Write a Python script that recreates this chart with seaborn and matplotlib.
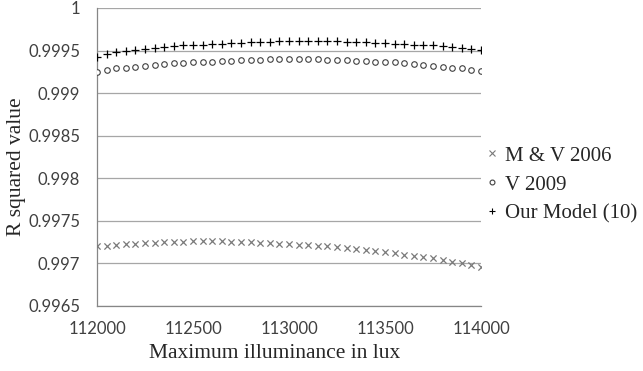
import numpy as np
import pandas as pd
import matplotlib
matplotlib.use("Agg")
import matplotlib.pyplot as plt
import seaborn as sns
from matplotlib.lines import Line2D

# Maximum illuminance (lux) sampled every 50 lux
illuminance = list(range(112000, 114001, 50))

mv_2006 = [0.99720, 0.99721, 0.99722, 0.99723, 0.99723, 0.99724, 0.99724, 0.99725, 0.99725, 0.99725,
           0.99726, 0.99726, 0.99726, 0.99726, 0.99725, 0.99725, 0.99725, 0.99724, 0.99724, 0.99723,
           0.99723, 0.99722, 0.99722, 0.99721, 0.99720, 0.99719, 0.99718, 0.99717, 0.99716, 0.99715,
           0.99713, 0.99712, 0.99710, 0.99709, 0.99707, 0.99706, 0.99704, 0.99702, 0.99700, 0.99698,
           0.99696]

v_2009 = [0.99925, 0.99927, 0.99929, 0.99930, 0.99931, 0.99932, 0.99933, 0.99934, 0.99935, 0.99935,
          0.99936, 0.99937, 0.99937, 0.99938, 0.99938, 0.99939, 0.99939, 0.99939, 0.99940, 0.99940,
          0.99940, 0.99940, 0.99940, 0.99940, 0.99939, 0.99939, 0.99939, 0.99938, 0.99938, 0.99937,
          0.99937, 0.99936, 0.99935, 0.99934, 0.99933, 0.99932, 0.99931, 0.99930, 0.99929, 0.99927,
          0.99926]

our_model = [0.99943, 0.99946, 0.99948, 0.99950, 0.99951, 0.99952, 0.99953, 0.99954, 0.99955, 0.99956,
             0.99957, 0.99957, 0.99958, 0.99958, 0.99959, 0.99959, 0.99960, 0.99960, 0.99960, 0.99961,
             0.99961, 0.99961, 0.99961, 0.99961, 0.99961, 0.99961, 0.99960, 0.99960, 0.99960, 0.99959,
             0.99959, 0.99958, 0.99958, 0.99957, 0.99956, 0.99956, 0.99955, 0.99954, 0.99953, 0.99952,
             0.99951]

series_names = ["M & V 2006", "V 2009", "Our Model (10)"]
x_ticks = [112000, 112500, 113000, 113500, 114000]
y_ticks = [0.9965, 0.997, 0.9975, 0.998, 0.9985, 0.999, 0.9995, 1.0]
y_tick_labels = ["0.9965", "0.997", "0.9975", "0.998", "0.9985", "0.999", "0.9995", "1"]

df = pd.DataFrame({
    "lux": illuminance * 3,
    "r2": mv_2006 + v_2009 + our_model,
    "model": [series_names[0]] * len(illuminance) + [series_names[1]] * len(illuminance)
             + [series_names[2]] * len(illuminance),
})

sns.set_style("white")
plt.rcParams["font.family"] = ["Lato", "DejaVu Sans"]

fig = plt.figure(figsize=(6.43, 3.71), dpi=100)
ax = fig.add_axes([97 / 643, 1 - 306 / 371, 384 / 643, 298 / 371])

styles = {
    series_names[0]: dict(marker="x", color="#7a7a7a", s=20, linewidth=0.9),
    series_names[1]: dict(marker="o", facecolor="white", edgecolor="#404040", s=16, linewidth=0.8),
    series_names[2]: dict(marker="+", color="black", s=40, linewidth=0.9),
}
for name in series_names:
    sub = df[df["model"] == name]
    sns.scatterplot(data=sub, x="lux", y="r2", ax=ax, legend=False, zorder=3, **styles[name])

ax.set_xlim(112000, 114000)
ax.set_ylim(0.9965, 1.0)
ax.set_xticks(x_ticks)
ax.set_xticklabels([str(t) for t in x_ticks])
ax.set_yticks(y_ticks)
ax.set_yticklabels(y_tick_labels)

ax.grid(axis="y", color="#a6a6a6", linewidth=0.9)
ax.grid(axis="x", visible=False)
for side in ["top", "right"]:
    ax.spines[side].set_visible(False)
for side in ["left", "bottom"]:
    ax.spines[side].set_color("#868686")
    ax.spines[side].set_linewidth(0.9)
ax.tick_params(axis="both", length=0, labelsize=12, colors="#404040")
ax.tick_params(axis="y", pad=12)
ax.tick_params(axis="x", pad=11)

serif = ["Liberation Serif", "DejaVu Serif"]
ax.set_xlabel("Maximum illuminance in lux", family=serif, fontsize=15.5)
ax.set_ylabel("R squared value", family=serif, fontsize=15.5)
ax.xaxis.set_label_coords((275 - 97) / 384, (306 - 344) / 298)
ax.yaxis.set_label_coords((26 - 97) / 384, (306 - 167) / 298)

handles = [
    Line2D([], [], linestyle="", marker="x", color="#7a7a7a", markersize=4, markeredgewidth=0.8),
    Line2D([], [], linestyle="", marker="o", markerfacecolor="white", markeredgecolor="#404040",
           markersize=3.5, markeredgewidth=0.8),
    Line2D([], [], linestyle="", marker="+", color="black", markersize=5, markeredgewidth=0.8),
]
leg = fig.legend(handles, series_names, loc="upper left", bbox_to_anchor=(487 / 643, 1 - 146 / 371),
                 frameon=False, handlelength=0.5, handletextpad=0.35, labelspacing=0.45,
                 borderpad=0, borderaxespad=0, prop={"family": serif, "size": 15})

fig.savefig("out.png", dpi=100)
